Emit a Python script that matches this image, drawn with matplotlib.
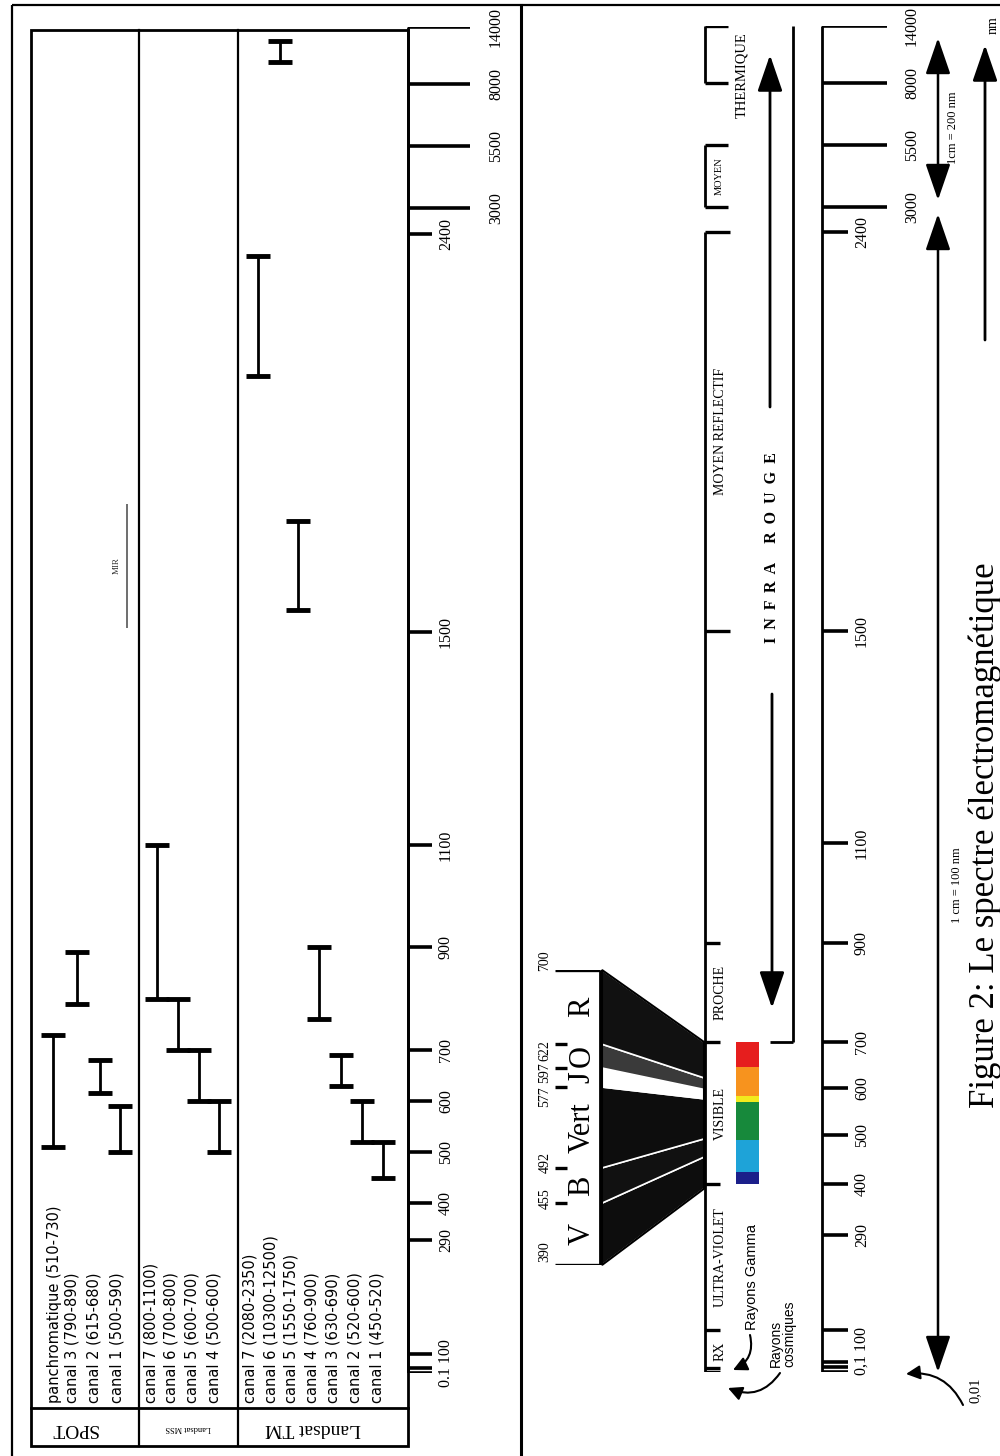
import numpy as np
import matplotlib.pyplot as plt
import matplotlib.transforms as mtransforms
from matplotlib.patches import Polygon, Rectangle, FancyArrowPatch

# wavelength axis (nm) printed on both scales
tick_nm = [0.1, 100, 290, 400, 500, 600, 700, 900, 1100, 1500, 2400, 3000, 5500, 8000, 14000]
tick_txt = ['0.1', '100', '290', '400', '500', '600', '700', '900', '1100', '1500', '2400',
            '3000', '5500', '8000', '14000']
long_ticks = [3000, 5500, 8000, 14000]

# SPOT bands
spot_names = ['panchromatique', 'canal 3', 'canal 2', 'canal 1']
spot_lo = [510, 790, 615, 500]
spot_hi = [730, 890, 680, 590]

# Landsat MSS bands
mss_names = ['canal 7', 'canal 6', 'canal 5', 'canal 4']
mss_lo = [800, 700, 600, 500]
mss_hi = [1100, 800, 700, 600]

# Landsat TM bands
tm_names = ['canal 7', 'canal 6', 'canal 5', 'canal 4', 'canal 3', 'canal 2', 'canal 1']
tm_lo = [2080, 10300, 1550, 760, 630, 520, 450]
tm_hi = [2350, 12500, 1750, 900, 690, 600, 520]

mir_lo, mir_hi = 1510, 1790

# visible light detail
vis_edges = [390, 455, 492, 577, 597, 622, 700]
vis_names = ['V', 'B', 'Vert', 'J', 'O', 'R']
vis_fill = ['#0d0d0d', '#111111', '#0d0d0d', 'white', '#3a3a3a', '#111111']

rainbow_edges = [400, 425, 490, 570, 584, 645, 700]
rainbow_colors = ['#1b1f8a', '#1ea3d8', '#17893b', '#f2ea1d', '#f7931e', '#e61e1e']

# spectral domains
region_edges = [0.1, 100, 400, 700, 900, 1500, 2400]
region_names = ['RX', 'ULTRA-VIOLET', 'VISIBLE', 'PROCHE', '', 'MOYEN REFLECTIF']
moyen = (3000, 5500)
thermique = (8000, 14000)

# ---- page layout (pixels of the scanned page; the two hand-drawn scales differ a bit) ----
W, H = 1000, 1456
left_row = [1373, 1354, 1240, 1203, 1152, 1101, 1050, 947, 845, 632, 234, 208, 146, 84, 27]
right_row = [1372, 1330, 1235, 1184, 1135, 1088, 1042, 943, 843, 631, 232, 207, 145, 83, 26]
vis_row = (1265, 970)
vis_label_shift = [-13, -5, -5, 10, 5, 6, -9]   # printed numbers sit a little off their ticks

serif = ['Liberation Serif', 'DejaVu Serif']
sans = ['DejaVu Sans']
arial = ['Liberation Sans', 'DejaVu Sans']

fig = plt.figure(figsize=(W / 100, H / 100), dpi=100)

page = fig.add_axes([0, 0, 1, 1])
page.set_xlim(0, W)
page.set_ylim(H, 0)
page.axis('off')


def wave_axes(rows):
    hgt = [H - r for r in rows]
    a = fig.add_axes([0, (H - rows[0]) / H, 1, (rows[0] - rows[-1]) / H])
    a.set_xlim(0, W)
    a.set_yscale('function', functions=(lambda w: np.interp(w, tick_nm, hgt),
                                        lambda h: np.interp(h, hgt, tick_nm)))
    a.set_ylim(tick_nm[0], tick_nm[-1])
    a.axis('off')
    return a


axL = wave_axes(left_row)
axR = wave_axes(right_row)

axV = fig.add_axes([0, (H - vis_row[0]) / H, 1, (vis_row[0] - vis_row[1]) / H])
axV.set_xlim(0, W)
axV.set_ylim(vis_edges[0], vis_edges[-1])
axV.axis('off')


def mid(a, lo, hi):
    f = a.yaxis.get_transform()
    return f.inverted().transform((f.transform(lo) + f.transform(hi)) / 2)


def up(a, px):
    return a.transData + mtransforms.ScaledTranslation(0, px / 100, fig.dpi_scale_trans)


# ---- frame ----
lk = dict(color='black', lw=1.6, solid_capstyle='butt')
page.plot([12, W], [5, 5], **lk)
page.plot([12, 12], [5, H], **lk)
page.plot([521, 521], [5, H], color='black', lw=2.2)
page.add_patch(Rectangle((31, 30), 408 - 31, 1446 - 30, fill=False, lw=2, ec='black'))
for xc in [139, 238]:
    page.plot([xc, xc], [30, 1446], color='black', lw=1.6)
page.plot([31, 408], [1408, 1408], color='black', lw=2)


# ---- scales ----
def scale(a, x0, short, long, xs_lab, xl_lab, sep, n_low):
    a.vlines(x0, tick_nm[0], tick_nm[-1], color='black', lw=2)
    for w, t in zip(tick_nm, tick_txt):
        x1 = long if w in long_ticks else short
        a.hlines(w, x0, x1, color='black', lw=2.6)
        if w in long_ticks:
            a.text(xl_lab, w, t, rotation=90, ha='center', va='center', fontsize=11.5,
                   family=serif)
        elif w > 100:
            a.text(xs_lab, w, t, rotation=90, ha='center', va='center', fontsize=11.5,
                   family=serif)
    for k in range(1, n_low):
        a.hlines(tick_nm[0], x0, short, color='black', lw=2.6, transform=up(a, 5 * k))
    a.text(xs_lab, mid(a, tick_nm[0], tick_nm[1]), tick_txt[0].replace('.', sep) + ' ' +
           tick_txt[1], rotation=90, ha='center', va='center', fontsize=11.5, family=serif)


scale(axL, 408, 432, 470, 446, 496, '.', 2)
scale(axR, 822, 848, 887, 862, 912, ',', 3)


# ---- band bars ----
def ibars(xs, lo, hi):
    axL.vlines(xs, lo, hi, color='black', lw=2)
    axL.plot(xs, lo, ls='none', marker='_', ms=17, mew=3.5, color='black')
    axL.plot(xs, hi, ls='none', marker='_', ms=17, mew=3.5, color='black')


def labels(xs, names, lo, hi):
    for x, n, a, b in zip(xs, names, lo, hi):
        page.text(x, 1403, f'{n} ({a}-{b})', rotation=90, ha='center', va='bottom',
                  fontsize=10.5, family=sans)


ibars([53, 77, 100, 120], spot_lo, spot_hi)
labels([55, 72, 94, 117], spot_names, spot_lo, spot_hi)
ibars([157, 178, 199, 219], mss_lo, mss_hi)
labels([151, 171, 192, 214], mss_names, mss_lo, mss_hi)
ibars([258, 280, 298, 319, 341, 362, 383], tm_lo, tm_hi)
labels([250, 271, 291, 312, 333, 355, 377], tm_names, tm_lo, tm_hi)

axL.vlines(127, mir_lo, mir_hi, color='#555555', lw=1.2)
axL.text(117, mid(axL, mir_lo, mir_hi), 'MIR', rotation=90, ha='center', va='center',
         fontsize=6.5, family=serif, color='#333333')

page.text(74, 1428, 'SPOT', rotation=180, ha='center', va='center', fontsize=14, family=serif)
page.text(188, 1428, 'Landsat MSS', rotation=180, ha='center', va='center', fontsize=6,
          family=serif)
page.text(313, 1428, 'Landsat TM', rotation=180, ha='center', va='center', fontsize=14,
          family=serif)

# ---- visible detail: expanded scale and funnel ----
x_box, x_tick, x_fun = 600, 567, 704
for i, (w, s) in enumerate(zip(vis_edges, vis_label_shift)):
    end = x_box if i in (0, len(vis_edges) - 1) else x_tick
    axV.hlines(w, 555, end, color='black', lw=2.4)
    axV.text(545, w, str(w), rotation=90, ha='center', va='center', fontsize=10,
             family=serif, transform=up(axV, -s))
axV.vlines(x_box, vis_edges[0], vis_edges[-1], color='black', lw=2)
for a, b, n in zip(vis_edges[:-1], vis_edges[1:], vis_names):
    axV.text(582, (a + b) / 2, n, rotation=90, ha='center', va='center', fontsize=22,
             family=serif)

to_page = page.transData.inverted()
for a, b, c in zip(vis_edges[:-1], vis_edges[1:], vis_fill):
    pts = np.vstack([axV.transData.transform([(x_box + 2, a), (x_box + 2, b)]),
                     axR.transData.transform([(x_fun, b), (x_fun, a)])])
    page.add_patch(Polygon(to_page.transform(pts), closed=True, fc=c, ec='white', lw=1.2))
page.add_patch(Polygon(to_page.transform(np.vstack([
    axV.transData.transform([(x_box + 2, vis_edges[0]), (x_box + 2, vis_edges[-1])]),
    axR.transData.transform([(x_fun, vis_edges[-1]), (x_fun, vis_edges[0])])])),
    closed=True, fill=False, ec='black', lw=1.5))

# rainbow strip
for a, b, c in zip(rainbow_edges[:-1], rainbow_edges[1:], rainbow_colors):
    axR.bar(747, b - a, bottom=a, width=23, color=c, lw=0)

# ---- domain brackets ----
axR.vlines(705, region_edges[0], region_edges[-1], color='black', lw=2)
for w in region_edges:
    axR.hlines(w, 705, 720 if w < 1000 else 730, color='black', lw=2.4)
axR.hlines(region_edges[0], 705, 720, color='black', lw=2.4, transform=up(axR, 4))
for a, b, n in zip(region_edges[:-1], region_edges[1:], region_names):
    axR.text(720, mid(axR, a, b), n, rotation=90, ha='center', va='center', fontsize=10,
             family=serif)
for (a, b) in (moyen, thermique):
    axR.vlines(705, a, b, color='black', lw=2)
    axR.hlines([a, b], 705, 728, color='black', lw=2.4)
axR.text(719, mid(axR, *moyen), 'MOYEN', rotation=90, ha='center', va='center', fontsize=7.5,
         family=serif)
page.text(742, 75, 'THERMIQUE', rotation=90, ha='center', va='center', fontsize=10.5,
          family=serif)

# infra-red bracket and arrows
axR.vlines(793, 700, 14000, color='black', lw=2)
axR.hlines(700, 770, 793, color='black', lw=2)
page.text(772, 548, 'I  N  F  R  A     R  O  U  G  E', rotation=90, ha='center',
          va='center', fontsize=11.5, family=serif, weight='bold')
ak = dict(arrowstyle='-|>,head_length=1.6,head_width=0.55', color='black', lw=2,
          shrinkA=0, shrinkB=0, mutation_scale=14)
page.annotate('', xy=(770, 55), xytext=(770, 407), arrowprops=ak)
page.annotate('', xy=(772, 1008), xytext=(772, 694), arrowprops=ak)

page.text(752, 1330, 'Rayons Gamma', rotation=90, ha='center', va='bottom', fontsize=10.5,
          family=arial)
page.text(783, 1367, 'Rayons\ncosmiques', rotation=90, ha='center', va='bottom',
          fontsize=10, family=arial, linespacing=0.95, multialignment='left')
ck = dict(arrowstyle='-|>,head_length=0.7,head_width=0.35', color='black', lw=1.5,
          mutation_scale=12, shrinkA=0, shrinkB=0)
page.add_patch(FancyArrowPatch((750, 1335), (733, 1370), connectionstyle='arc3,rad=-0.4', **ck))
page.add_patch(FancyArrowPatch((780, 1373), (728, 1388), connectionstyle='arc3,rad=-0.4', **ck))

# ---- scale bars ----
dk = dict(arrowstyle='<|-|>,head_length=1.6,head_width=0.55', color='black', lw=1.8,
          shrinkA=0, shrinkB=0, mutation_scale=14)
page.annotate('', xy=(938, 1372), xytext=(938, 214), arrowprops=dk)
page.annotate('', xy=(938, 38), xytext=(938, 200), arrowprops=dk)
page.annotate('', xy=(985, 45), xytext=(985, 340), arrowprops=ak)
page.text(953, 128, '1cm = 200 nm', rotation=90, ha='center', va='center', fontsize=9,
          family=serif)
page.text(957, 885, '1 cm = 100 nm', rotation=90, ha='center', va='center', fontsize=9,
          family=serif)
page.text(993, 25, 'nm', rotation=90, ha='center', va='center', fontsize=10, family=serif)
page.text(975, 1390, '0,01', rotation=90, ha='center', va='center', fontsize=10.5,
          family=serif)
page.add_patch(FancyArrowPatch((963, 1405), (906, 1374), connectionstyle='arc3,rad=0.35', **ck))

page.text(994, 1108, 'Figure 2: Le spectre électromagnétique', rotation=90,
          rotation_mode='anchor', ha='left', va='baseline', fontsize=25, family=serif)

fig.savefig('out.png', dpi=100)
